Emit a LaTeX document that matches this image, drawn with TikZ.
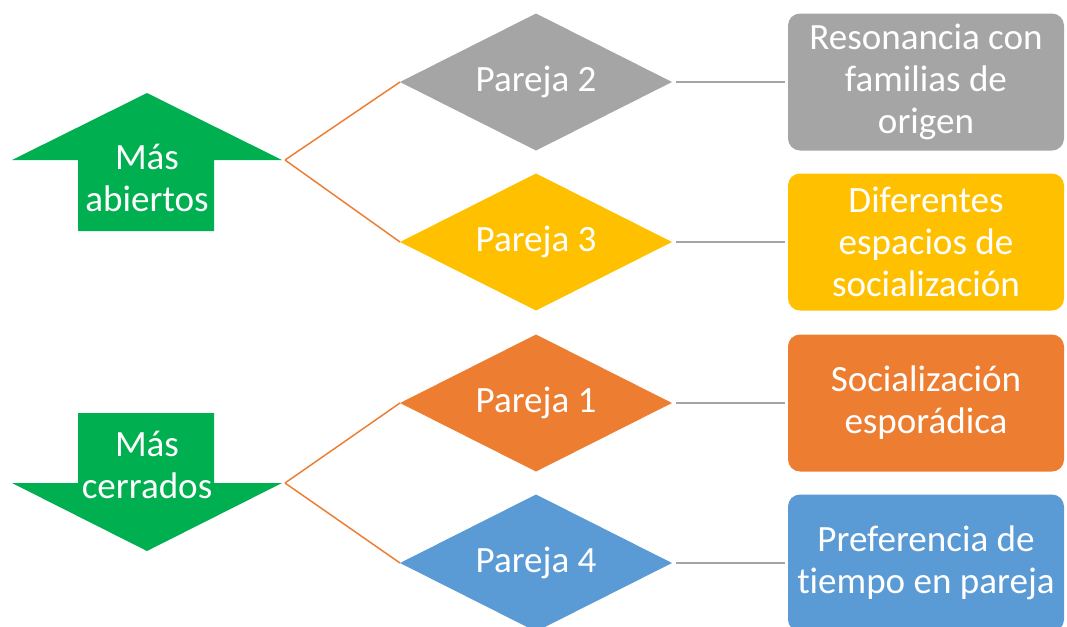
\documentclass[tikz,border=0pt]{standalone}
\usepackage{fontspec}
\setmainfont{Carlito}[Ligatures=NoCommon]
\usetikzlibrary{shapes.geometric}
\definecolor{verde}{HTML}{00B050}
\definecolor{gris}{HTML}{A5A5A5}
\definecolor{oro}{HTML}{FFC000}
\definecolor{naranja}{HTML}{ED7D31}
\definecolor{azul}{HTML}{5B9BD5}

\begin{document}
\begin{tikzpicture}[x=0.75pt, y=-0.75pt,
    texto/.style={text=white, align=flush center, font=\fontsize{27.8}{31.5}\selectfont},
    pareja/.style={diamond, aspect=2, fill=#1, texto, minimum width=204pt, minimum height=102.75pt, inner sep=0pt, outer sep=0pt},
    caja/.style={rectangle, rounded corners=9pt, fill=#1, texto, minimum width=207pt, minimum height=102.75pt, text width=204pt, inner sep=0pt, outer sep=0pt},
    rama/.style={draw=naranja, line width=1.1pt},
    enlace/.style={draw=gris, line width=1.1pt}]
    \useasboundingbox (0,0) rectangle (1067,626);
    \clip (0,0) rectangle (1067,626);

    % flechas
    \fill [verde] (147,93) -- (282,160) -- (214,160) -- (214,231) -- (78,231) -- (78,160) -- (12,160) -- cycle;
    \fill [verde] (78,413) -- (214,413) -- (214,483) -- (282,483) -- (147,551) -- (12,483) -- (78,483) -- cycle;
    \node [texto] (abiertos) at (147,178) {Más\\abiertos};
    \node [texto] (cerrados) at (147,465) {Más\\cerrados};
    \coordinate (arriba) at (285,160);
    \coordinate (abajo) at (285,483);

    % parejas
    \node [pareja=gris] (p2) at (536,82) {Pareja 2};
    \node [pareja=oro] (p3) at (536,242) {Pareja 3};
    \node [pareja=naranja] (p1) at (536,403) {Pareja 1};
    \node [pareja=azul] (p4) at (536,563) {Pareja 4};

    % cajas
    \node [caja=gris] (c2) at (926,82) {Resonancia con\\familias de\\origen};
    \node [caja=oro] (c3) at (926,242) {Diferentes\\espacios de\\socialización};
    \node [caja=naranja] (c1) at (926,403) {Socialización\\esporádica};
    \node [caja=azul] (c4) at (926,563) {Preferencia de\\tiempo en pareja};

    % conexiones
    \draw [rama] (arriba) -- (p2.west);
    \draw [rama] (arriba) -- (p3.west);
    \draw [rama] (abajo) -- (p1.west);
    \draw [rama] (abajo) -- (p4.west);
    \draw [enlace] ([xshift=3pt]p2.east) -- ([xshift=-2pt]c2.west);
    \draw [enlace] ([xshift=3pt]p3.east) -- ([xshift=-2pt]c3.west);
    \draw [enlace] ([xshift=3pt]p1.east) -- ([xshift=-2pt]c1.west);
    \draw [enlace] ([xshift=3pt]p4.east) -- ([xshift=-2pt]c4.west);
\end{tikzpicture}
\end{document}
